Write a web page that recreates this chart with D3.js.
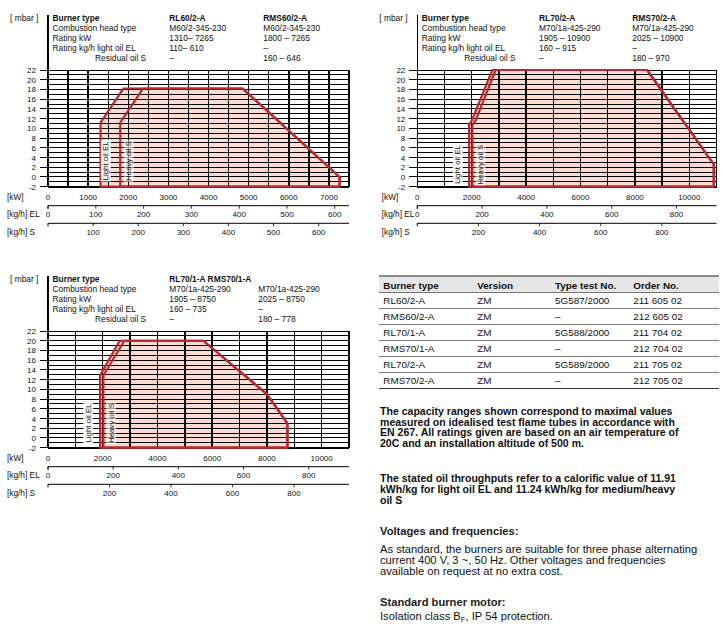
<!DOCTYPE html>
<html lang="en">
<head>
<meta charset="utf-8">
<title>Burner capacity ranges</title>
<script src="https://cdn.jsdelivr.net/npm/d3@7"></script>
<style>
  body { margin: 0; background: #fff; }
  svg { font-family: "Liberation Sans", Arial, sans-serif; }
  .grid line { stroke: #000; stroke-width: 1; shape-rendering: crispEdges; }
  .hdr { font-size: 8.4px; fill: #111; }
  .tick { font-size: 8px; fill: #111; }
  .unit { font-size: 8.3px; fill: #111; }
  .oil { font-size: 7.9px; fill: #111; }
  .tbl { font-size: 9.9px; fill: #111; }
  .para { font-size: 10.55px; fill: #111; }
  .para.n { font-size: 11.2px; }
</style>
</head>
<body>
<script>
// ---- data ----
var mbarTicks = [22, 20, 18, 16, 14, 12, 10, 8, 6, 4, 2, 0, -2];

// RL60/2-A + RMS60/2-A
var kw60 = [0, 1000, 2000, 3000, 4000, 5000, 6000, 7000];
var el60 = [0, 100, 200, 300, 400, 500, 600];
var s60 = [100, 200, 300, 400, 500, 600];
var rl60El = [[1310, -2], [1310, 11.2], [1880, 18.2], [4850, 18.2], [7265, 0], [7265, -2]];
var rms60S = [[1800, -2], [1800, 11.2], [2370, 18.2], [4850, 18.2], [7265, 0], [7265, -2]];

// RL70/2-A + RMS70/2-A
var kw70 = [0, 2000, 4000, 6000, 8000, 10000];
var el70 = [0, 200, 400, 600, 800];
var s70 = [200, 400, 600, 800];
var rl702El = [[1905, -2], [1905, 10.7], [2010, 11.7], [2760, 22], [8450, 22], [10900, 2.6], [10900, -2]];
var rms702S = [[2025, -2], [2025, 10.7], [2150, 11.7], [2880, 22], [8450, 22], [10900, 2.6], [10900, -2]];

// RL70/1-A + RMS70/1-A
var rl701El = [[1905, -2], [1905, 12.9], [2620, 20], [5680, 20], [8000, 9], [8750, 3], [8750, -2]];
var rms701S = [[2025, -2], [2025, 12.9], [2790, 20], [5680, 20], [8000, 9], [8750, 3], [8750, -2]];

var hdrLabels = ["Burner type", "Combustion head type", "Rating kW", "Rating kg/h light oil EL", "Residual oil S"];
var hdr60a = ["RL60/2-A", "M60/2-345-230", "1310\u2013 7265", "110\u2013 610", "\u2013"];
var hdr60b = ["RMS60/2-A", "M60/2-345-230", "1800 \u2013 7265", "\u2013", "160 \u2013 646"];
var hdr702a = ["RL70/2-A", "M70/1a-425-290", "1905 \u2013 10900", "160 \u2013 915", "\u2013"];
var hdr702b = ["RMS70/2-A", "M70/1a-425-290", "2025 \u2013 10900", "\u2013", "180 \u2013 970"];
var hdr701a = ["RL70/1-A RMS70/1-A", "M70/1a-425-290", "1905 \u2013 8750", "160 \u2013 735", "\u2013"];
var hdr701b = ["", "M70/1a-425-290", "2025 \u2013 8750", "\u2013", "180 \u2013 778"];

// calorific values used for kg/h scales
var kwhPerKgEL = 11.91, kwhPerKgS = 11.24;

var tblHead = ["Burner type", "Version", "Type test No.", "Order No."];
var tblType = ["RL60/2-A", "RMS60/2-A", "RL70/1-A", "RMS70/1-A", "RL70/2-A", "RMS70/2-A"];
var tblVersion = ["ZM", "ZM", "ZM", "ZM", "ZM", "ZM"];
var tblTest = ["5G587/2000", "\u2013", "5G588/2000", "\u2013", "5G589/2000", "\u2013"];
var tblOrder = ["211 605 02", "212 605 02", "211 704 02", "212 704 02", "211 705 02", "212 705 02"];

var w = 728, h = 630;
var red = "#b8282e", pink = "#fcdcd1";

var svg = d3.select("body").append("svg").attr("width", w).attr("height", h);

function drawChart(c) {
  var g = svg.append("g");
  var x = d3.scaleLinear().domain([0, c.kwMax]).range([c.left, c.right]);
  var y = d3.scaleLinear().domain([-2, 22]).range([c.top + 116.7, c.top]);
  var bot = y(-2);

  // header
  g.append("text").attr("class", "hdr").attr("x", c.left - 38).attr("y", c.top - 49.5).text("[ mbar ]");
  hdrLabels.forEach(function(t, i) {
    g.append("text").attr("class", "hdr")
      .attr("x", c.left + (i == 4 ? 47 : 4.5)).attr("y", c.top - 49.5 + i * 10)
      .style("font-weight", i == 0 ? "bold" : null).text(t);
  });
  [c.colA, c.colB].forEach(function(col, k) {
    col.forEach(function(t, i) {
      g.append("text").attr("class", "hdr")
        .attr("x", c.left + c.colX[k]).attr("y", c.top - 49.5 + i * 10)
        .style("font-weight", i == 0 ? "bold" : null).text(t);
    });
  });

  // oil areas
  var line = d3.line().x(function(d) { return x(d[0]); }).y(function(d) { return y(d[1]); });
  c.areas.forEach(function(a) {
    g.append("path").attr("d", line(a) + "Z").attr("fill", pink);
  });

  // grid
  var grid = g.append("g").attr("class", "grid");
  grid.selectAll("line.h").data(d3.range(-2, 23)).enter().append("line")
    .attr("x1", c.left).attr("x2", c.right)
    .attr("y1", function(d) { return y(d); }).attr("y2", function(d) { return y(d); });
  grid.selectAll("line.v").data(d3.range(c.gridStep, c.kwMax + 1, c.gridStep)).enter().append("line")
    .attr("y1", c.top).attr("y2", bot)
    .attr("x1", function(d) { return x(d); }).attr("x2", function(d) { return x(d); })
    .style("stroke-width", 1.4);
  grid.append("line").attr("x1", c.left).attr("x2", c.right).attr("y1", bot).attr("y2", bot).style("stroke-width", 2);
  grid.append("line").attr("x1", c.left).attr("x2", c.left).attr("y1", c.top - 55).attr("y2", bot).style("stroke-width", 1.4);
  grid.selectAll("line.t").data(mbarTicks).enter().append("line")
    .attr("x1", c.left - 8).attr("x2", c.left)
    .attr("y1", function(d) { return y(d); }).attr("y2", function(d) { return y(d); });

  g.selectAll("text.ym").data(mbarTicks).enter().append("text").attr("class", "tick")
    .attr("x", c.left - 12).attr("y", function(d) { return y(d) + 3; })
    .attr("text-anchor", "end").text(function(d) { return d; });

  c.areas.forEach(function(a) {
    g.append("path").attr("d", line(a) + "Z").attr("fill", "none")
      .attr("stroke", red).attr("stroke-width", 2.2).attr("stroke-linejoin", "round");
  });

  // oil labels
  c.oilLabels.forEach(function(o) {
    var lg = g.append("g").attr("transform", "translate(" + x(o.kw) + "," + y(o.mbar) + ") rotate(-90)");
    var r = lg.append("rect").attr("fill", "#fff").attr("opacity", o.op);
    var t = lg.append("text").attr("class", "oil").attr("text-anchor", "middle").attr("y", 3).text(o.text);
    var b = t.node().getBBox();
    r.attr("x", b.x - 1).attr("y", b.y - 0.5).attr("width", b.width + 2).attr("height", b.height + 1);
  });

  // bottom scales
  var ux = c.left + c.unitDx;
  g.append("text").attr("class", "unit").attr("x", ux).attr("y", bot + 13).text("[kW]");
  g.append("text").attr("class", "unit").attr("x", ux).attr("y", bot + 30.3).text("[kg/h] EL");
  g.append("text").attr("class", "unit").attr("x", ux).attr("y", bot + 48.6).text("[kg/h] S");

  g.selectAll("text.kw").data(c.kw).enter().append("text").attr("class", "tick")
    .attr("x", function(d) { return x(d); }).attr("y", bot + 13).attr("text-anchor", "middle")
    .text(function(d) { return d; });

  [[c.el, kwhPerKgEL, 19, 30.3], [c.s, kwhPerKgS, 36.6, 48.6]].forEach(function(ax) {
    var ay = bot + ax[2];
    g.append("line").attr("x1", c.left).attr("x2", c.right).attr("y1", ay).attr("y2", ay)
      .attr("stroke", "#000").attr("stroke-width", 1);
    g.append("line").attr("x1", c.left).attr("x2", c.left).attr("y1", ay).attr("y2", ay + 3).attr("stroke", "#000");
    g.selectAll(null).data(ax[0]).enter().append("line")
      .attr("x1", function(d) { return x(d * ax[1]); }).attr("x2", function(d) { return x(d * ax[1]); })
      .attr("y1", ay).attr("y2", ay + 3).attr("stroke", "#000").attr("stroke-width", 0.8);
    g.selectAll(null).data(ax[0]).enter().append("text").attr("class", "tick")
      .attr("x", function(d) { return x(d * ax[1]); }).attr("y", bot + ax[3]).attr("text-anchor", "middle")
      .text(function(d) { return d; });
  });
}

drawChart({ left: 48, right: 349, top: 70, kwMax: 7500, gridStep: 500, unitDx: -41,
  kw: kw60, el: el60, s: s60, areas: [rl60El, rms60S],
  colA: hdr60a, colB: hdr60b, colX: [121.3, 215.3],
  oilLabels: [{ text: "Light oil EL", kw: 1430, mbar: 3.3, op: 0.9 }, { text: "Heavy oil S", kw: 2000, mbar: 3.3, op: 0.6 }] });

drawChart({ left: 417.3, right: 716.5, top: 70, kwMax: 11000, gridStep: 1000, unitDx: -35.6,
  kw: kw70, el: el70, s: s70, areas: [rl702El, rms702S],
  colA: hdr702a, colB: hdr702b, colX: [121.7, 215],
  oilLabels: [{ text: "Light oil EL", kw: 1470, mbar: 2.55, op: 0.9 }, { text: "Heavy oil S", kw: 2305, mbar: 2.55, op: 0.6 }] });

drawChart({ left: 48, right: 349, top: 331, kwMax: 11000, gridStep: 1000, unitDx: -41,
  kw: kw70, el: el70, s: s70, areas: [rl701El, rms701S],
  colA: hdr701a, colB: hdr701b, colX: [121.3, 210.3],
  oilLabels: [{ text: "Light oil EL", kw: 1450, mbar: 3.07, op: 0.9 }, { text: "Heavy oil S", kw: 2290, mbar: 3.07, op: 0.6 }] });

// ---- table ----
var tx = [383.3, 477.3, 555, 633.3];
var tb = svg.append("g");
tb.append("rect").attr("x", 379).attr("y", 276).attr("width", 340).attr("height", 16.5).attr("fill", "#e6e6e6");
tb.append("line").attr("x1", 379).attr("x2", 719).attr("y1", 276).attr("y2", 276).attr("stroke", "#222").attr("stroke-width", 1);
tblHead.forEach(function(t, i) {
  tb.append("text").attr("class", "tbl").attr("x", tx[i]).attr("y", 288.5).style("font-weight", "bold").text(t);
});
tblType.forEach(function(t, r) {
  var yy = 292.5 + r * 16;
  tb.append("line").attr("x1", 379).attr("x2", 719).attr("y1", yy).attr("y2", yy).attr("stroke", "#555").attr("stroke-width", 0.8);
  [t, tblVersion[r], tblTest[r], tblOrder[r]].forEach(function(v, i) {
    tb.append("text").attr("class", "tbl").attr("x", tx[i]).attr("y", yy + 11.5).text(v);
  });
});
tb.append("line").attr("x1", 379).attr("x2", 719).attr("y1", 388.5).attr("y2", 388.5).attr("stroke", "#333").attr("stroke-width", 1);

// ---- notes ----
var notes = [
  ["The capacity ranges shown correspond to maximal values", 415, "b"],
  ["measured on idealised test flame tubes in accordance with", 425.6, "b"],
  ["EN 267. All ratings given are based on an air temperature of", 436.2, "b"],
  ["20C and an installation altitude of 500 m.", 446.8, "b"],
  ["The stated oil throughputs refer to a calorific value of 11.91", 482.3, "b"],
  ["kWh/kg for light oil EL and 11.24 kWh/kg for medium/heavy", 493.2, "b"],
  ["oil S", 504, "b"],
  ["Voltages and frequencies:", 535, "h"],
  ["As standard, the burners are suitable for three phase alternating", 552.8, "n"],
  ["current 400 V, 3 ~, 50 Hz. Other voltages and frequencies", 564, "n"],
  ["available on request at no extra cost.", 575, "n"],
  ["Standard burner motor:", 605.7, "h"]
];
notes.forEach(function(n) {
  svg.append("text").attr("class", n[2] == "b" ? "para" : "para n").attr("x", 380).attr("y", n[1])
    .style("font-weight", n[2] == "n" ? null : "bold")
    .style("fill", n[2] == "h" ? "#222" : null)
    .text(n[0]);
});
var iso = svg.append("text").attr("class", "para n").attr("x", 380).attr("y", 619.5);
iso.append("tspan").text("Isolation class B");
iso.append("tspan").attr("dy", 2.5).style("font-size", "7.5px").text("F");
iso.append("tspan").attr("dy", -2.5).text(", IP 54 protection.");
</script>
</body>
</html>
